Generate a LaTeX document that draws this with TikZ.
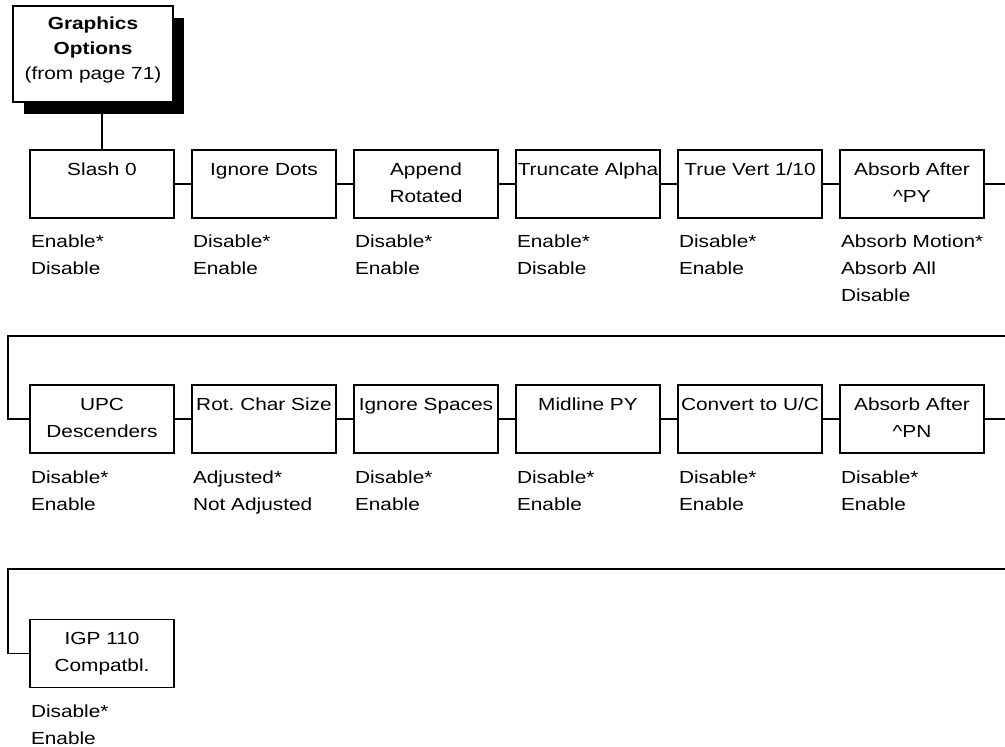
\documentclass[tikz,border=0pt]{standalone}
\usepackage{fontspec}
\setmainfont{Liberation Sans}[FakeStretch=1.19]
\usetikzlibrary{shadows}
% list of values, baseline on its first line
\newcommand\optvals[1]{\begin{tabular}[t]{@{}l@{}}#1\end{tabular}}
\frenchspacing
\begin{document}
\begin{tikzpicture}[x=1pt,y=-1pt,
  every node/.style={inner sep=0pt, outer sep=0pt},
  optbox/.style={draw, line width=1.8pt, fill=white, text width=144pt,
    align=center, text height=25pt, text depth=43pt,
    font=\fontsize{17.5}{27}\selectfont},
  headbox/.style={draw, line width=1.8pt, fill=white, text width=160pt,
    align=center, text height=23pt, text depth=73pt,
    font=\fontsize{17.5}{25}\selectfont,
    drop shadow={shadow xshift=11pt, shadow yshift=-12pt, fill=black,
      draw=none, opacity=1}},
  optlabel/.style={anchor=base west,
    font=\fontsize{17.5}{27}\selectfont},
  link/.style={line width=1.8pt}]

\useasboundingbox (0,0) rectangle (1005,747);

% menu entry
\node[headbox] (top) at (93,54) {\textbf{Graphics}\\\textbf{Options}\\(from page 71)};

% first row of options
\node[optbox] (b11) at (102,184) {Slash 0};
\node[optbox] (b12) at (264,184) {Ignore Dots};
\node[optbox] (b13) at (426,184) {Append\\Rotated};
\node[optbox] (b14) at (588,184) {Truncate Alpha};
\node[optbox] (b15) at (750,184) {True Vert 1/10};
\node[optbox] (b16) at (912,184) {Absorb After\\\textasciicircum PY};

% second row of options
\node[optbox] (b21) at (102,419) {UPC\\Descenders};
\node[optbox] (b22) at (264,419) {Rot. Char Size};
\node[optbox] (b23) at (426,419) {Ignore Spaces};
\node[optbox] (b24) at (588,419) {Midline PY};
\node[optbox] (b25) at (750,419) {Convert to U/C};
\node[optbox] (b26) at (912,419) {Absorb After\\\textasciicircum PN};

% third row of options
\node[optbox] (b31) at (102,653.5) {IGP 110\\Compatbl.};

% values under each option
\node[optlabel] (l11) at ([xshift=1pt,yshift=-29pt]b11.south west) {\optvals{Enable*\\Disable}};
\node[optlabel] (l12) at ([xshift=1pt,yshift=-29pt]b12.south west) {\optvals{Disable*\\Enable}};
\node[optlabel] (l13) at ([xshift=1pt,yshift=-29pt]b13.south west) {\optvals{Disable*\\Enable}};
\node[optlabel] (l14) at ([xshift=1pt,yshift=-29pt]b14.south west) {\optvals{Enable*\\Disable}};
\node[optlabel] (l15) at ([xshift=1pt,yshift=-29pt]b15.south west) {\optvals{Disable*\\Enable}};
\node[optlabel] (l16) at ([xshift=1pt,yshift=-29pt]b16.south west) {\optvals{Absorb Motion*\\Absorb All\\Disable}};

\node[optlabel] (l21) at ([xshift=1pt,yshift=-30pt]b21.south west) {\optvals{Disable*\\Enable}};
\node[optlabel] (l22) at ([xshift=1pt,yshift=-30pt]b22.south west) {\optvals{Adjusted*\\Not Adjusted}};
\node[optlabel] (l23) at ([xshift=1pt,yshift=-30pt]b23.south west) {\optvals{Disable*\\Enable}};
\node[optlabel] (l24) at ([xshift=1pt,yshift=-30pt]b24.south west) {\optvals{Disable*\\Enable}};
\node[optlabel] (l25) at ([xshift=1pt,yshift=-30pt]b25.south west) {\optvals{Disable*\\Enable}};
\node[optlabel] (l26) at ([xshift=1pt,yshift=-30pt]b26.south west) {\optvals{Disable*\\Enable}};

\node[optlabel] (l31) at ([xshift=1pt,yshift=-30pt]b31.south west) {\optvals{Disable*\\Enable}};

% row wrap-around points
\coordinate (r1out) at (1005,184);
\coordinate (r2in)  at (1005,336);
\coordinate (r2turn) at (8,336);
\coordinate (r2out) at (1005,419);
\coordinate (r3in)  at (1005,569);
\coordinate (r3turn) at (8,569);

% connectors
\draw[link] (b11.north |- top.south) -- (b11.north);
\draw[link] (b11.east) -- (b12.west);
\draw[link] (b12.east) -- (b13.west);
\draw[link] (b13.east) -- (b14.west);
\draw[link] (b14.east) -- (b15.west);
\draw[link] (b15.east) -- (b16.west);
\draw[link] (b16.east) -- (r1out);

\draw[link] (r2in) -- (r2turn) |- (b21.west);
\draw[link] (b21.east) -- (b22.west);
\draw[link] (b22.east) -- (b23.west);
\draw[link] (b23.east) -- (b24.west);
\draw[link] (b24.east) -- (b25.west);
\draw[link] (b25.east) -- (b26.west);
\draw[link] (b26.east) -- (r2out);

\draw[link] (r3in) -- (r3turn) |- (b31.west);
\end{tikzpicture}
\end{document}
